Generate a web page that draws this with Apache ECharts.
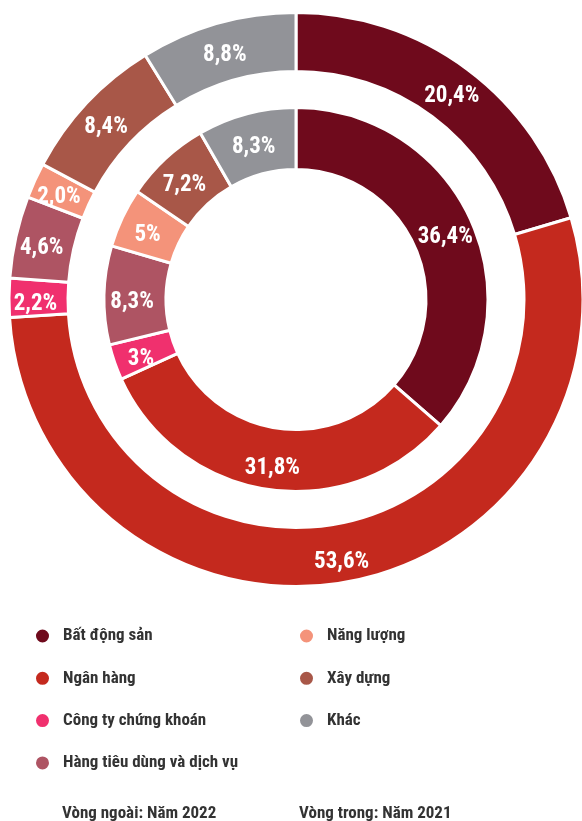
<!DOCTYPE html>
<html>
<head>
<meta charset="utf-8">
<script src="https://cdn.jsdelivr.net/npm/echarts@6/dist/echarts.min.js"></script>
<style>html,body{margin:0;padding:0;background:#fff}#c{width:582px;height:821px}</style>
</head>
<body>
<div id="c"></div>
<script>
var categories = ['Bất động sản','Ngân hàng','Công ty chứng khoán','Hàng tiêu dùng và dịch vụ','Năng lượng','Xây dựng','Khác'];
var colors = ['#6f0a1c','#c4291e','#f0306e','#ae5463','#f4937a','#a85748','#929398'];
var outer2022 = [20.4, 53.6, 2.2, 4.6, 2.0, 8.4, 8.8];
var inner2021 = [36.4, 31.8, 3, 8.3, 5, 7.2, 8.3];
var FONT = "'Liberation Sans Narrow','Roboto Condensed','DejaVu Sans Condensed',Roboto,sans-serif";

function mk(vals){ return categories.map(function(n,i){ return {name:n, value:vals[i], itemStyle:{color:colors[i]}}; }); }

var chart = echarts.init(document.getElementById('c'), null, {renderer:'canvas'});
var labelBase = {show:true, position:'inside', color:'#fff', fontFamily:FONT, fontWeight:'bold', fontSize:23, offset:[0,6]};
var legendText = {fontFamily:FONT, fontWeight:'bold', fontSize:17, color:'#333', padding:[0,0,0,8], lineHeight:20};
chart.setOption({
  animation:false,
  legend:[
    {data:categories.slice(0,4), orient:'vertical', left:34, top:626, padding:0, icon:'circle', itemWidth:15, itemHeight:15, itemGap:22.3,
     selectedMode:false, textStyle:legendText},
    {data:categories.slice(4), orient:'vertical', left:298, top:626, padding:0, icon:'circle', itemWidth:15, itemHeight:15, itemGap:22.3,
     selectedMode:false, textStyle:legendText}
  ],
  graphic:[
    {type:'text', left:62, top:805, style:{text:'Vòng ngoài: Năm 2022', font:'bold 17px '+FONT, fill:'#333'}},
    {type:'text', left:299, top:805, style:{text:'Vòng trong: Năm 2021', font:'bold 17px '+FONT, fill:'#333'}}
  ],
  series:[
    {type:'pie', name:'2022', center:[296,299.5], radius:[228,287], startAngle:90, clockwise:true,
     avoidLabelOverlap:false, emphasis:{disabled:true}, silent:true,
     itemStyle:{borderColor:'#fff', borderWidth:3},
     label:Object.assign({}, labelBase, {formatter:function(p){return p.value.toFixed(1).replace('.',',')+'%';}}),
     labelLine:{show:false}, data:mk(outer2022)},
    {type:'pie', name:'2021', center:[296,299.5], radius:[130,192], startAngle:90, clockwise:true,
     avoidLabelOverlap:false, emphasis:{disabled:true}, silent:true,
     itemStyle:{borderColor:'#fff', borderWidth:3},
     label:Object.assign({}, labelBase, {formatter:function(p){return String(p.value).replace('.',',')+'%';}}),
     labelLine:{show:false}, data:mk(inner2021)}
  ]
});
</script>
</body>
</html>
